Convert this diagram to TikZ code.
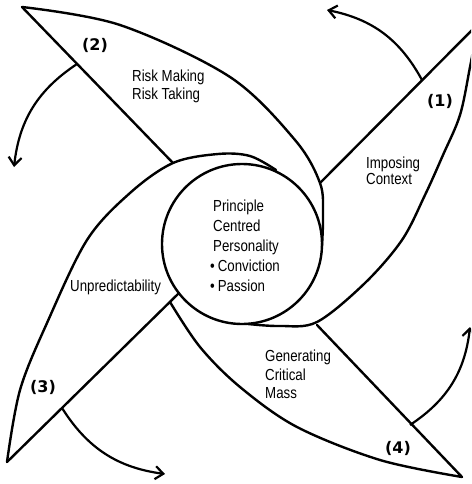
\documentclass[tikz,border=0pt]{standalone}
\usepackage{fontspec}
\setmainfont{Liberation Sans}[FakeStretch=0.83]
\newfontfamily\numfont{DejaVu Sans}
\usetikzlibrary{arrows.meta}
\begin{document}
\begin{tikzpicture}[x=1pt,y=-1pt,
  edge/.style={line width=2.4pt, line join=round, line cap=round},
  arr/.style={line width=2.2pt, -{Straight Barb[length=8pt,width=13pt]}},
  lbl/.style={inner sep=0pt, anchor=north west, align=left, font=\fontsize{16}{18}\selectfont},
  num/.style={inner sep=0pt, font=\numfont\bfseries\fontsize{16}{18}\selectfont}]
\useasboundingbox (0,0) rectangle (471,484);
\clip (0,0) rectangle (471,484);
\fill[white] (0,0) rectangle (471,484);

% blade tips and inner ends of straight edges
\coordinate (T1) at (478,24);
\coordinate (T2) at (22,7);
\coordinate (T3) at (7,462);
\coordinate (T4) at (462,477);
\coordinate (S1) at (320,183);
\coordinate (S2) at (173,163);
\coordinate (S3) at (179,293);
\coordinate (S4) at (317,325);
\coordinate (E4) at (170,302);

% centre circle
\node[draw, circle, line width=2.4pt, minimum size=160pt, inner sep=0pt] (core) at (242,244) {};

% straight edges
\draw[edge] (T1) -- (S1);
\draw[edge] (T2) -- (S2);
\draw[edge] (T3) -- (S3);
\draw[edge] (T4) -- (S4);

% curved edges
\draw[edge] plot[smooth, tension=0.55] coordinates {(22,7) (120,25) (230,77) (295,140) (320,183) (323,215) (322,246)};
\draw[edge] plot[smooth, tension=0.55] coordinates {(478,24) (470,67) (460,115) (443,155) (425,195) (402,240) (365,283) (317,322) (280,326) (248,324)};
\draw[edge] plot[smooth, tension=0.55] coordinates {(7,462) (20,390) (47,323) (87,240) (130,193) (173,163) (218,154) (250,156) (276,170)};
\draw[edge] plot[smooth, tension=0.55] coordinates {(462,477) (380,460) (297,427) (240,387) (200,347) (170,302)};

% arrows
\coordinate (a1s) at (422,80);  \coordinate (a1e) at (327,10);
\coordinate (a2s) at (77,64);   \coordinate (a2e) at (14,167);
\coordinate (a3s) at (62,408);  \coordinate (a3e) at (165,474);
\coordinate (a4s) at (410,425); \coordinate (a4e) at (470,327);
\draw[arr] (a1s) to[bend right=25] (a1e);
\draw[arr] (a2s) to[bend right=25] (a2e);
\draw[arr] (a3s) to[bend right=25] (a3e);
\draw[arr] (a4s) to[bend right=25] (a4e);

% labels
\node[lbl] (risk) at (132,70) {Risk Making\\Risk Taking};
\node[lbl, font=\fontsize{16}{16}\selectfont] (impose) at (366,157) {Imposing\\Context};
\node[lbl, font=\fontsize{16}{20}\selectfont] (coretext) at (213,200)
  {Principle\\Centred\\Personality\\\hspace*{-3pt}\textbullet\hspace{3pt}Conviction\\\hspace*{-3pt}\textbullet\hspace{3pt}Passion};
\node[lbl] (unpred) at (70,280) {Unpredictability};
\node[lbl, font=\fontsize{16}{18.5}\selectfont] (gen) at (265,350) {Generating\\Critical\\Mass};

\node[num] (n1) at (440,101) {(1)};
\node[num] (n2) at (95,45) {(2)};
\node[num] (n3) at (43,387) {(3)};
\node[num] (n4) at (398,448) {(4)};
\end{tikzpicture}
\end{document}
